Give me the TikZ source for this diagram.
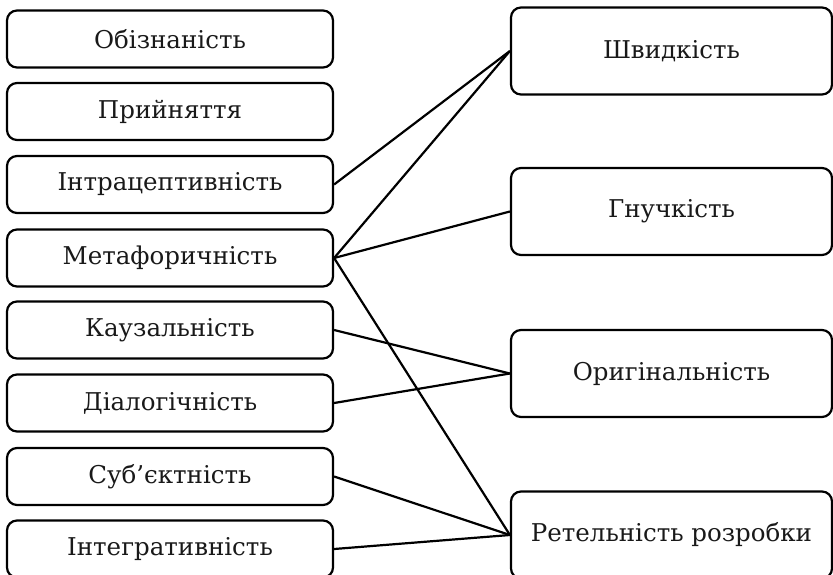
\documentclass[tikz,border=0pt]{standalone}
\usepackage{fontspec}
\setmainfont{DejaVu Serif}
\usepackage{tikz}

\begin{document}
\begin{tikzpicture}[x=1pt,y=-1pt,
	boite/.style={draw, rectangle, rounded corners=10pt, line width=2.2pt,
		text=black!90, font=\fontsize{24.5}{29}\selectfont},
	gauche/.style={boite, minimum width=326pt, minimum height=57pt},
	droite/.style={boite, minimum width=321pt, minimum height=87pt},
	lien/.style={line width=2.2pt}]
	\clip (0,0) rectangle (833,574);
	\node[gauche] (Ob) at (170,39) {Обізнаність};%
	\node[gauche] (Pr) at (170,111.5) {Прийняття};%
	\node[gauche] (In) at (170,184.5) {Інтрацептивність};%
	\node[gauche] (Me) at (170,258) {Метафоричність};%
	\node[gauche] (Ka) at (170,330) {Каузальність};%
	\node[gauche] (Di) at (170,403) {Діалогічність};%
	\node[gauche] (Su) at (170,476.5) {Суб’єктність};%
	\node[gauche] (It) at (170,549) {Інтегративність};%
	
	\node[droite] (Sh) at (671.5,51) {Швидкість};
	\node[droite] (Gn) at (671.5,211.5) {Гнучкість};
	\node[droite] (Or) at (671.5,373.5) {Оригінальність};
	\node[droite] (Re) at (671.5,535) {Ретельність розробки};
	
	\draw[lien] (In.east) -- (Sh.west) ;
	\draw[lien] (Me.east) -- (Sh.west) ;
	\draw[lien] (Me.east) -- (Gn.west) ;
	\draw[lien] (Me.east) -- (Re.west) ;
	\draw[lien] (Ka.east) -- (Or.west) ;
	\draw[lien] (Di.east) -- (Or.west) ;
	\draw[lien] (Su.east) -- (Re.west) ;
	\draw[lien] (It.east) -- (Re.west) ;
\end{tikzpicture}
\end{document}
